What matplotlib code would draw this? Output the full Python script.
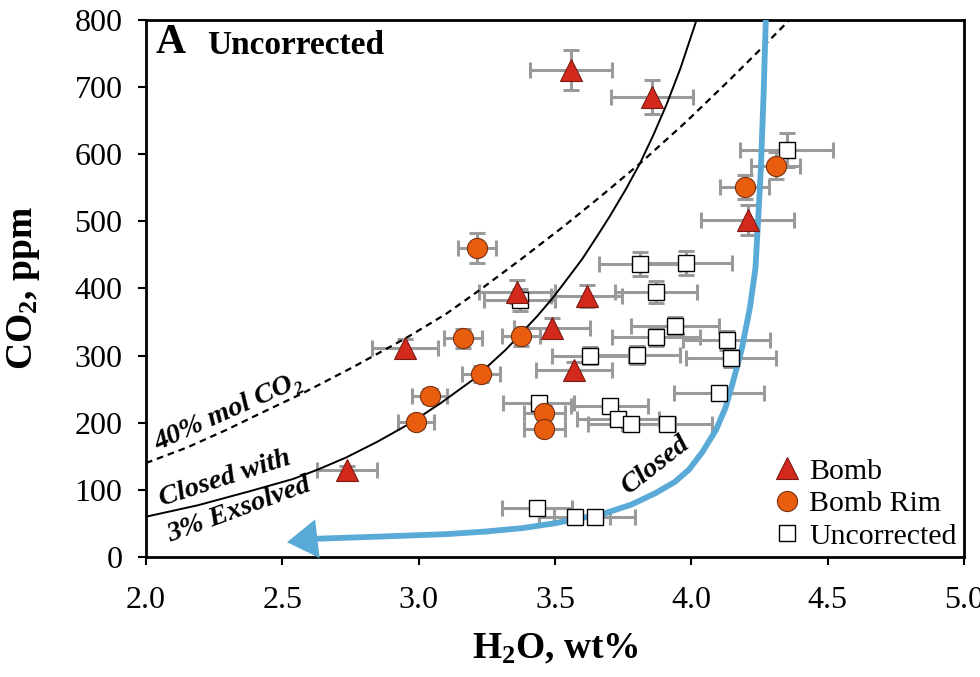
import matplotlib
matplotlib.use("Agg")
import matplotlib.pyplot as plt
from matplotlib.lines import Line2D

plt.rcParams['font.family'] = ['Liberation Serif', 'DejaVu Serif']
plt.rcParams['mathtext.fontset'] = 'custom'
plt.rcParams['mathtext.rm'] = 'Liberation Serif'
plt.rcParams['mathtext.bf'] = 'Liberation Serif:bold'

# --- data ---
bomb_h2o = [3.56, 3.855, 4.207, 3.36, 3.617, 3.49, 3.57, 2.95, 2.737]
bomb_co2 = [725, 685, 502, 395, 389, 341, 279, 311, 130]
bomb_xerr = [0.15, 0.15, 0.17, 0.14, 0.13, 0.14, 0.14, 0.12, 0.11]
bomb_yerr = [30, 25, 22, 17, 16, 15, 12, 13, 6]

rim_h2o = [3.214, 4.31, 4.196, 3.162, 3.375, 3.228, 3.04, 2.99, 3.46, 3.46]
rim_co2 = [460, 583, 551, 326, 329, 273, 240, 201, 215, 191]
rim_xerr = [0.07, 0.09, 0.09, 0.07, 0.07, 0.07, 0.065, 0.065, 0.075, 0.075]
rim_yerr = [22, 20, 18, 14, 14, 12, 10, 9, 10, 9]

unc_h2o = [4.35, 3.81, 3.98, 3.87, 3.37, 3.94, 3.87, 4.13, 3.80, 3.63,
           4.145, 4.10, 3.44, 3.70, 3.73, 3.78, 3.91, 3.434, 3.573, 3.645]
unc_co2 = [606, 437, 438, 395, 383, 344, 328, 323, 301, 300,
           296, 244, 229, 225, 206, 198, 198, 73, 59, 59]
unc_xerr = [0.17, 0.15, 0.17, 0.15, 0.13, 0.16, 0.16, 0.16, 0.16, 0.14,
            0.165, 0.165, 0.13, 0.14, 0.15, 0.16, 0.165, 0.13, 0.13, 0.15]
unc_yerr = [25, 18, 18, 16, 16, 14, 14, 14, 13, 13,
            13, 10, 10, 10, 9, 9, 9, 4, 3, 3]

# degassing curves
mol40_h2o = [2.0, 2.15, 2.293, 2.43, 2.575, 2.76, 2.953, 3.10, 3.225, 3.38,
             3.53, 3.67, 3.811, 3.98, 4.141, 4.25, 4.36]
mol40_co2 = [140, 163, 189, 216, 244, 283, 326, 362, 398, 445,
             492, 538, 586, 648, 711, 755, 800]

exs3_h2o = [2.0, 2.19, 2.381, 2.538, 2.629, 2.733, 2.85, 2.964, 3.08, 3.199,
            3.32, 3.433, 3.49, 3.55, 3.60, 3.653, 3.70, 3.76, 3.811, 3.86,
            3.909, 3.96, 4.019]
exs3_co2 = [60, 77, 98, 116, 130, 148, 172, 198, 229, 264,
            309, 358, 385, 417, 444, 477, 507, 548, 586, 628,
            674, 728, 800]

closed_h2o = [2.615, 2.9, 3.1, 3.249, 3.38, 3.496, 3.573, 3.682, 3.78, 3.868,
              3.94, 3.991, 4.04, 4.09, 4.125, 4.152, 4.185, 4.215, 4.235, 4.245,
              4.255, 4.265, 4.273]
closed_co2 = [27, 31, 34, 38, 43, 50, 56, 65, 78, 95,
              112, 130, 156, 189, 222, 260, 310, 372, 430, 502,
              580, 690, 800]
arrow_tip = (2.517, 22)

x_ticks = [2.0, 2.5, 3.0, 3.5, 4.0, 4.5, 5.0]
y_ticks = [0, 100, 200, 300, 400, 500, 600, 700, 800]

red = '#d3281c'
orange = '#e85d0e'
blue = '#5aaad8'
grey = '#9a9a9a'

fig = plt.figure(figsize=(9.8, 6.77), dpi=100)
ax = fig.add_axes([0.149, 0.1773, 0.8347, 0.7932])

ebkw = dict(fmt='none', ecolor=grey, elinewidth=2.2, capsize=5.5, capthick=2.2, zorder=2)
ax.errorbar(unc_h2o, unc_co2, xerr=unc_xerr, yerr=unc_yerr, **ebkw)
ax.errorbar(rim_h2o, rim_co2, xerr=rim_xerr, yerr=rim_yerr, **ebkw)
ax.errorbar(bomb_h2o, bomb_co2, xerr=bomb_xerr, yerr=bomb_yerr, **ebkw)

ax.plot(mol40_h2o, mol40_co2, color='black', lw=1.6, ls=(0, (3, 2.2)), zorder=3)
ax.plot(exs3_h2o, exs3_co2, color='black', lw=1.4, zorder=3)
ax.plot(closed_h2o, closed_co2, color=blue, lw=4.2, solid_capstyle='butt',
        solid_joinstyle='round', zorder=3)
ax.annotate('', xy=arrow_tip, xytext=(closed_h2o[0] + 0.01, closed_co2[0]),
            arrowprops=dict(arrowstyle='-|>,head_length=1.1,head_width=0.7',
                            mutation_scale=20, color=blue, lw=0,
                            shrinkA=0, shrinkB=0), zorder=3)

ax.plot(unc_h2o, unc_co2, 's', ms=12, mfc='white', mec='black', mew=1.0, zorder=4)
ax.plot(rim_h2o, rim_co2, 'o', ms=14.5, mfc=orange, mec='#7a3010', mew=0.8, zorder=5)
ax.plot(bomb_h2o, bomb_co2, '^', ms=16, mfc=red, mec='#7a1a10', mew=0.8, zorder=6)

# curve labels
lab = dict(ha='center', va='center', rotation_mode='anchor', fontsize=20.5,
           fontweight='bold', fontstyle='italic')
ax.text(2.304, 216, '40% mol CO\u2082', rotation=24, **lab)
ax.text(2.29, 117, 'Closed with', rotation=18, **lab)
ax.text(2.34, 70, '3% Exsolved', rotation=20, **lab)
ax.text(3.867, 136, 'Closed', rotation=38, **lab)

ax.text(0.012, 0.958, 'A', transform=ax.transAxes, fontsize=30, fontweight='bold', va='center')
ax.text(0.075, 0.953, 'Uncorrected', transform=ax.transAxes, fontsize=24, fontweight='bold', va='center')

ax.set_xlim(2.0, 5.0)
ax.set_ylim(0, 800)
ax.set_xticks(x_ticks)
ax.set_xticklabels(['%.1f' % v for v in x_ticks])
ax.set_yticks(y_ticks)
ax.tick_params(direction='out', length=6, width=1.5, labelsize=23)
ax.tick_params(axis='x', pad=15)
ax.tick_params(axis='y', pad=11)
for s in ax.spines.values():
    s.set_linewidth(2.0)

ax.set_xlabel(r'$\mathbf{H_2O}$, wt%', fontsize=27, fontweight='bold', labelpad=12)
ax.set_ylabel(r'$\mathbf{CO_2}$, ppm', fontsize=27, fontweight='bold', labelpad=23)

handles = [
    Line2D([], [], ls='none', marker='^', ms=16, mfc=red, mec='#7a1a10', mew=0.8),
    Line2D([], [], ls='none', marker='o', ms=14.5, mfc=orange, mec='#7a3010', mew=0.8),
    Line2D([], [], ls='none', marker='s', ms=12, mfc='white', mec='black', mew=1.0),
]
ax.legend(handles, ['Bomb', 'Bomb Rim', 'Uncorrected'], loc='lower right',
          frameon=False, fontsize=21.5, handlelength=0.9, handletextpad=0.3,
          labelspacing=0.18, borderaxespad=0.05, borderpad=0.2)

fig.savefig('out.png', dpi=100)
